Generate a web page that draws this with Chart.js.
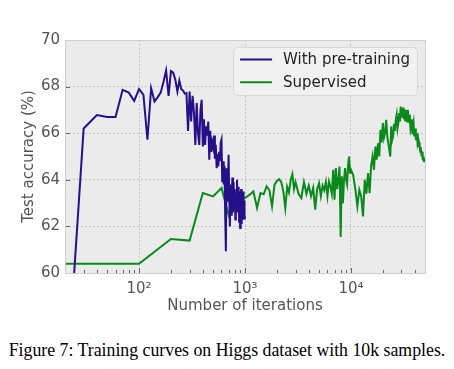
<!DOCTYPE html>
<html lang="en">
<head>
  <meta charset="UTF-8" />
  <title>Higgs training curves</title>
  <script src="https://cdn.jsdelivr.net/npm/chart.js"></script>
  <style>
    body {
      margin: 0;
      background: #fff;
    }

    #wrap {
      position: relative;
      width: 454px;
      height: 369px;
    }

    #caption {
      position: absolute;
      left: 0;
      top: 339px;
      width: 454px;
      text-align: center;
      white-space: nowrap;
      font-family: "Liberation Serif", serif;
      font-size: 17.8px;
      line-height: 22px;
      color: #000;
    }
  </style>
</head>
<body>
  <div id="wrap">
    <canvas id="chart" width="454" height="325"></canvas>
    <div id="caption">Figure 7: Training curves on Higgs dataset with 10k samples.</div>
  </div>

  <script>
    // iterations / accuracy
    const blueIter = [
      20, 30, 40, 50, 60, 70, 80, 90, 100,
      110, 120, 130, 140, 150, 160, 170, 180, 190, 200,
      210, 220, 230, 240, 250, 260, 270, 280, 290, 300,
      310, 320, 330, 340, 350, 360, 370, 380, 390, 400,
      410, 420, 430, 440, 450, 460, 470, 480, 490, 500,
      510, 520, 530, 540, 550, 560, 570, 580, 590, 600,
      610, 620, 630, 640, 650, 660, 670, 680, 690, 700,
      710, 720, 730, 740, 750, 760, 770, 780, 790, 800,
      810, 820, 830, 840, 850, 860, 870, 880, 890, 900,
      910, 920, 930, 940, 950, 960, 970, 980, 990, 1000
    ];
    const blueAcc = [
      54.0, 66.2, 66.78, 66.7, 66.7, 67.86, 67.74, 67.39, 67.9,
      67.64, 65.72, 67.93, 67.36, 67.55, 67.74, 68.2, 68.69, 67.6, 68.67,
      68.6, 68.29, 67.79, 68.26, 67.9, 67.83, 67.7, 67.72, 66.1, 67.79,
      66.5, 67.6, 66.9, 65.5, 67.3, 66.0, 65.5, 67.0, 67.43, 65.43,
      66.6, 65.5, 66.3, 65.9, 66.5, 64.86, 66.1, 65.2, 65.6, 65.4,
      65.9, 64.9, 65.5, 64.5, 65.1, 64.57, 65.2, 64.8, 65.6, 65.72,
      63.9, 64.8, 63.8, 64.6, 62.5, 60.93, 64.5, 63.1, 63.6, 65.07,
      63.3, 62.0, 63.8, 62.5, 63.2, 64.1, 62.6, 63.9, 62.8, 63.6,
      62.3, 63.4, 62.9, 64.0, 62.6, 63.2, 63.7, 62.2, 63.5, 61.93,
      63.0, 63.6, 62.1, 63.2, 62.4, 63.5, 62.29, 63.1, 62.5, 62.3
    ];

    const greenIter = [
      20, 100, 200, 300, 400, 500, 600, 700, 800, 900, 1000,
      1100, 1200, 1300, 1400, 1500, 1600, 1700, 1800, 1900, 2000,
      2100, 2200, 2300, 2400, 2500, 2600, 2700, 2800, 2900, 3000,
      3200, 3400, 3600, 3800, 4000, 4200, 4400, 4600, 4800, 5000,
      5200, 5400, 5600, 5800, 6000, 6200, 6400, 6600, 6800, 7000,
      7200, 7400, 7600, 7800, 8000, 8200, 8400, 8600, 8800, 9000,
      9200, 9400, 9600, 9800, 10000,
      10500, 11000, 11500, 12000, 12500, 13000, 13500, 14000, 14500, 15000,
      15500, 16000, 16500, 17000, 17500, 18000, 18500, 19000, 19500, 20000,
      20500, 21000, 21500, 22000, 22500, 23000, 23500, 24000, 24500, 25000,
      25500, 26000, 26500, 27000, 27500, 28000, 28500, 29000, 29500, 30000,
      30500, 31000, 31500, 32000, 32500, 33000, 33500, 34000, 34500, 35000,
      35500, 36000, 36500, 37000, 37500, 38000, 38500, 39000, 39500, 40000,
      40500, 41000, 41500, 42000, 42500, 43000, 43500, 44000, 44500, 45000,
      45500, 46000, 46500, 47000, 47500, 48000, 48500, 49000, 49500
    ];
    const greenAcc = [
      60.4, 60.4, 61.46, 61.39, 63.43, 63.29, 63.65, 62.5, 63.43, 63.25, 63.22,
      63.35, 63.5, 62.79, 63.43, 63.38, 63.72, 63.55, 62.86, 63.79, 63.95,
      64.03, 63.9, 63.5, 62.79, 63.7, 63.45, 64.0, 64.24, 63.6, 63.9,
      63.4, 63.22, 63.9, 63.4, 63.75, 63.3, 63.65, 62.72, 63.6, 63.85,
      63.3, 63.75, 63.55, 63.9, 63.3, 63.93, 63.72, 63.4, 64.43, 63.15,
      64.5, 63.6, 64.0, 64.57, 61.55, 64.15, 63.0, 64.0, 64.5, 64.0,
      63.8, 64.65, 65.0, 64.3, 64.43,
      64.2, 63.6, 62.86, 63.57, 63.29, 62.43, 64.0, 63.4, 64.29, 63.43,
      64.6, 65.0, 64.43, 65.43, 64.86, 65.57, 65.0, 66.15, 65.6, 66.43,
      65.8, 66.0, 66.57, 65.9, 65.57, 65.3, 65.0, 66.29, 65.7, 65.86,
      66.4, 66.1, 66.57, 66.79, 66.2, 66.43, 66.86, 66.5, 67.14, 66.7,
      66.72, 67.1, 66.6, 67.0, 66.55, 66.65, 67.0, 66.5, 67.0, 66.45,
      66.8, 66.57, 66.2, 66.36, 66.6, 66.0, 66.29, 66.45, 65.9, 65.93,
      66.2, 65.7, 65.86, 66.0, 65.6, 65.72, 65.4, 65.6, 65.5, 65.2,
      65.4, 65.22, 65.0, 65.2, 64.9, 64.86, 65.0, 64.8, 64.9
    ];

    const xTicks = [
      20, 30, 40, 50, 60, 70, 80, 90, 100,
      200, 300, 400, 500, 600, 700, 800, 900, 1000,
      2000, 3000, 4000, 5000, 6000, 7000, 8000, 9000, 10000,
      20000, 30000, 40000, 50000
    ];
    const xMajor = [100, 1000, 10000];
    const xMajorLabels = ["10²", "10³", "10⁴"];
    const yTicks = [60, 62, 64, 66, 68, 70];

    const blueColor = "#25108a";
    const greenColor = "#0a8a1c";
    const tickColor = "#555";
    const tickFont = { family: "DejaVu Sans", size: 15 };

    const frame = {
      id: "frame",
      beforeDraw(chart) {
        const { ctx, chartArea: a } = chart;
        ctx.save();
        ctx.fillStyle = "#ebebeb";
        ctx.fillRect(a.left, a.top, a.right - a.left, a.bottom - a.top);
        ctx.restore();
      },
      afterDraw(chart) {
        const { ctx, chartArea: a } = chart;
        const xs = chart.scales.x, ys = chart.scales.y;
        ctx.save();
        // inward tick marks
        ctx.strokeStyle = "#666";
        ctx.lineWidth = 1;
        ctx.beginPath();
        xTicks.forEach(v => {
          const px = Math.round(xs.getPixelForValue(v)) + 0.5;
          const len = xMajor.includes(v) ? 5 : 3;
          ctx.moveTo(px, a.bottom);
          ctx.lineTo(px, a.bottom - len);
        });
        yTicks.forEach(v => {
          const py = Math.round(ys.getPixelForValue(v)) + 0.5;
          ctx.moveTo(a.left, py);
          ctx.lineTo(a.left + 5, py);
        });
        ctx.stroke();

        // box round the plot
        ctx.strokeStyle = "#cfcfcf";
        ctx.strokeRect(Math.round(a.left) + 0.5, Math.round(a.top) + 0.5,
          Math.round(a.right - a.left), Math.round(a.bottom - a.top));

        // legend
        const sets = chart.data.datasets;
        ctx.font = "15px 'DejaVu Sans'";
        const textW = Math.max(...sets.map(d => ctx.measureText(d.label).width));
        const w = 7 + 32 + 11 + textW + 7;
        const h = 48;
        const lx = a.right - 8 - w;
        const ly = a.top + 7;
        ctx.beginPath();
        ctx.roundRect(lx + 0.5, ly + 0.5, w, h, 4);
        ctx.fillStyle = "rgba(242,242,242,0.85)";
        ctx.fill();
        ctx.strokeStyle = "#d9d9d9";
        ctx.stroke();
        sets.forEach((d, i) => {
          const cy = ly + 12.5 + i * 22.7;
          ctx.strokeStyle = d.borderColor;
          ctx.lineWidth = 2;
          ctx.beginPath();
          ctx.moveTo(lx + 7, cy);
          ctx.lineTo(lx + 39, cy);
          ctx.stroke();
          ctx.fillStyle = "#222";
          ctx.textBaseline = "middle";
          ctx.fillText(d.label, lx + 50, cy + 1);
        });
        ctx.restore();
      }
    };

    new Chart(document.getElementById("chart"), {
      type: "line",
      data: {
        datasets: [
          {
            label: "With pre-training",
            data: blueIter.map((x, i) => ({ x, y: blueAcc[i] })),
            borderColor: blueColor,
            borderWidth: 2,
            pointRadius: 0,
            tension: 0
          },
          {
            label: "Supervised",
            data: greenIter.map((x, i) => ({ x, y: greenAcc[i] })),
            borderColor: greenColor,
            borderWidth: 2,
            pointRadius: 0,
            tension: 0
          }
        ]
      },
      options: {
        responsive: false,
        animation: false,
        devicePixelRatio: 1,
        layout: { padding: { top: 40, right: 29, left: 0, bottom: 0 } },
        plugins: {
          legend: { display: false },
          tooltip: { enabled: false }
        },
        scales: {
          x: {
            type: "logarithmic",
            min: 20,
            max: 50000,
            afterBuildTicks: s => {
              s.ticks = xTicks.map(v => ({ value: v }));
            },
            afterFit: s => { s.height = 52; },
            ticks: {
              autoSkip: false,
              maxRotation: 0,
              padding: 7,
              color: tickColor,
              font: tickFont,
              callback: v => {
                const k = xMajor.indexOf(v);
                return k >= 0 ? xMajorLabels[k] : "";
              }
            },
            grid: {
              drawTicks: false,
              color: c => xMajor.includes(c.tick.value) ? "#c4c4c4" : "rgba(0,0,0,0)"
            },
            border: { display: false, dash: [2, 2] },
            title: {
              display: true,
              text: "Number of iterations",
              color: tickColor,
              font: tickFont,
              padding: { top: 0, bottom: 10 }
            }
          },
          y: {
            min: 60,
            max: 70,
            afterBuildTicks: s => {
              s.ticks = yTicks.map(v => ({ value: v }));
            },
            afterFit: s => { s.width = 65; },
            ticks: {
              padding: 5,
              color: tickColor,
              font: tickFont
            },
            grid: {
              drawTicks: false,
              color: c => (c.tick.value === 60 || c.tick.value === 70) ? "rgba(0,0,0,0)" : "#c4c4c4"
            },
            border: { display: false, dash: [2, 2] },
            title: {
              display: true,
              text: "Test accuracy (%)",
              color: tickColor,
              font: tickFont,
              padding: { top: 20, bottom: 0 }
            }
          }
        }
      },
      plugins: [frame]
    });
  </script>
</body>
</html>
